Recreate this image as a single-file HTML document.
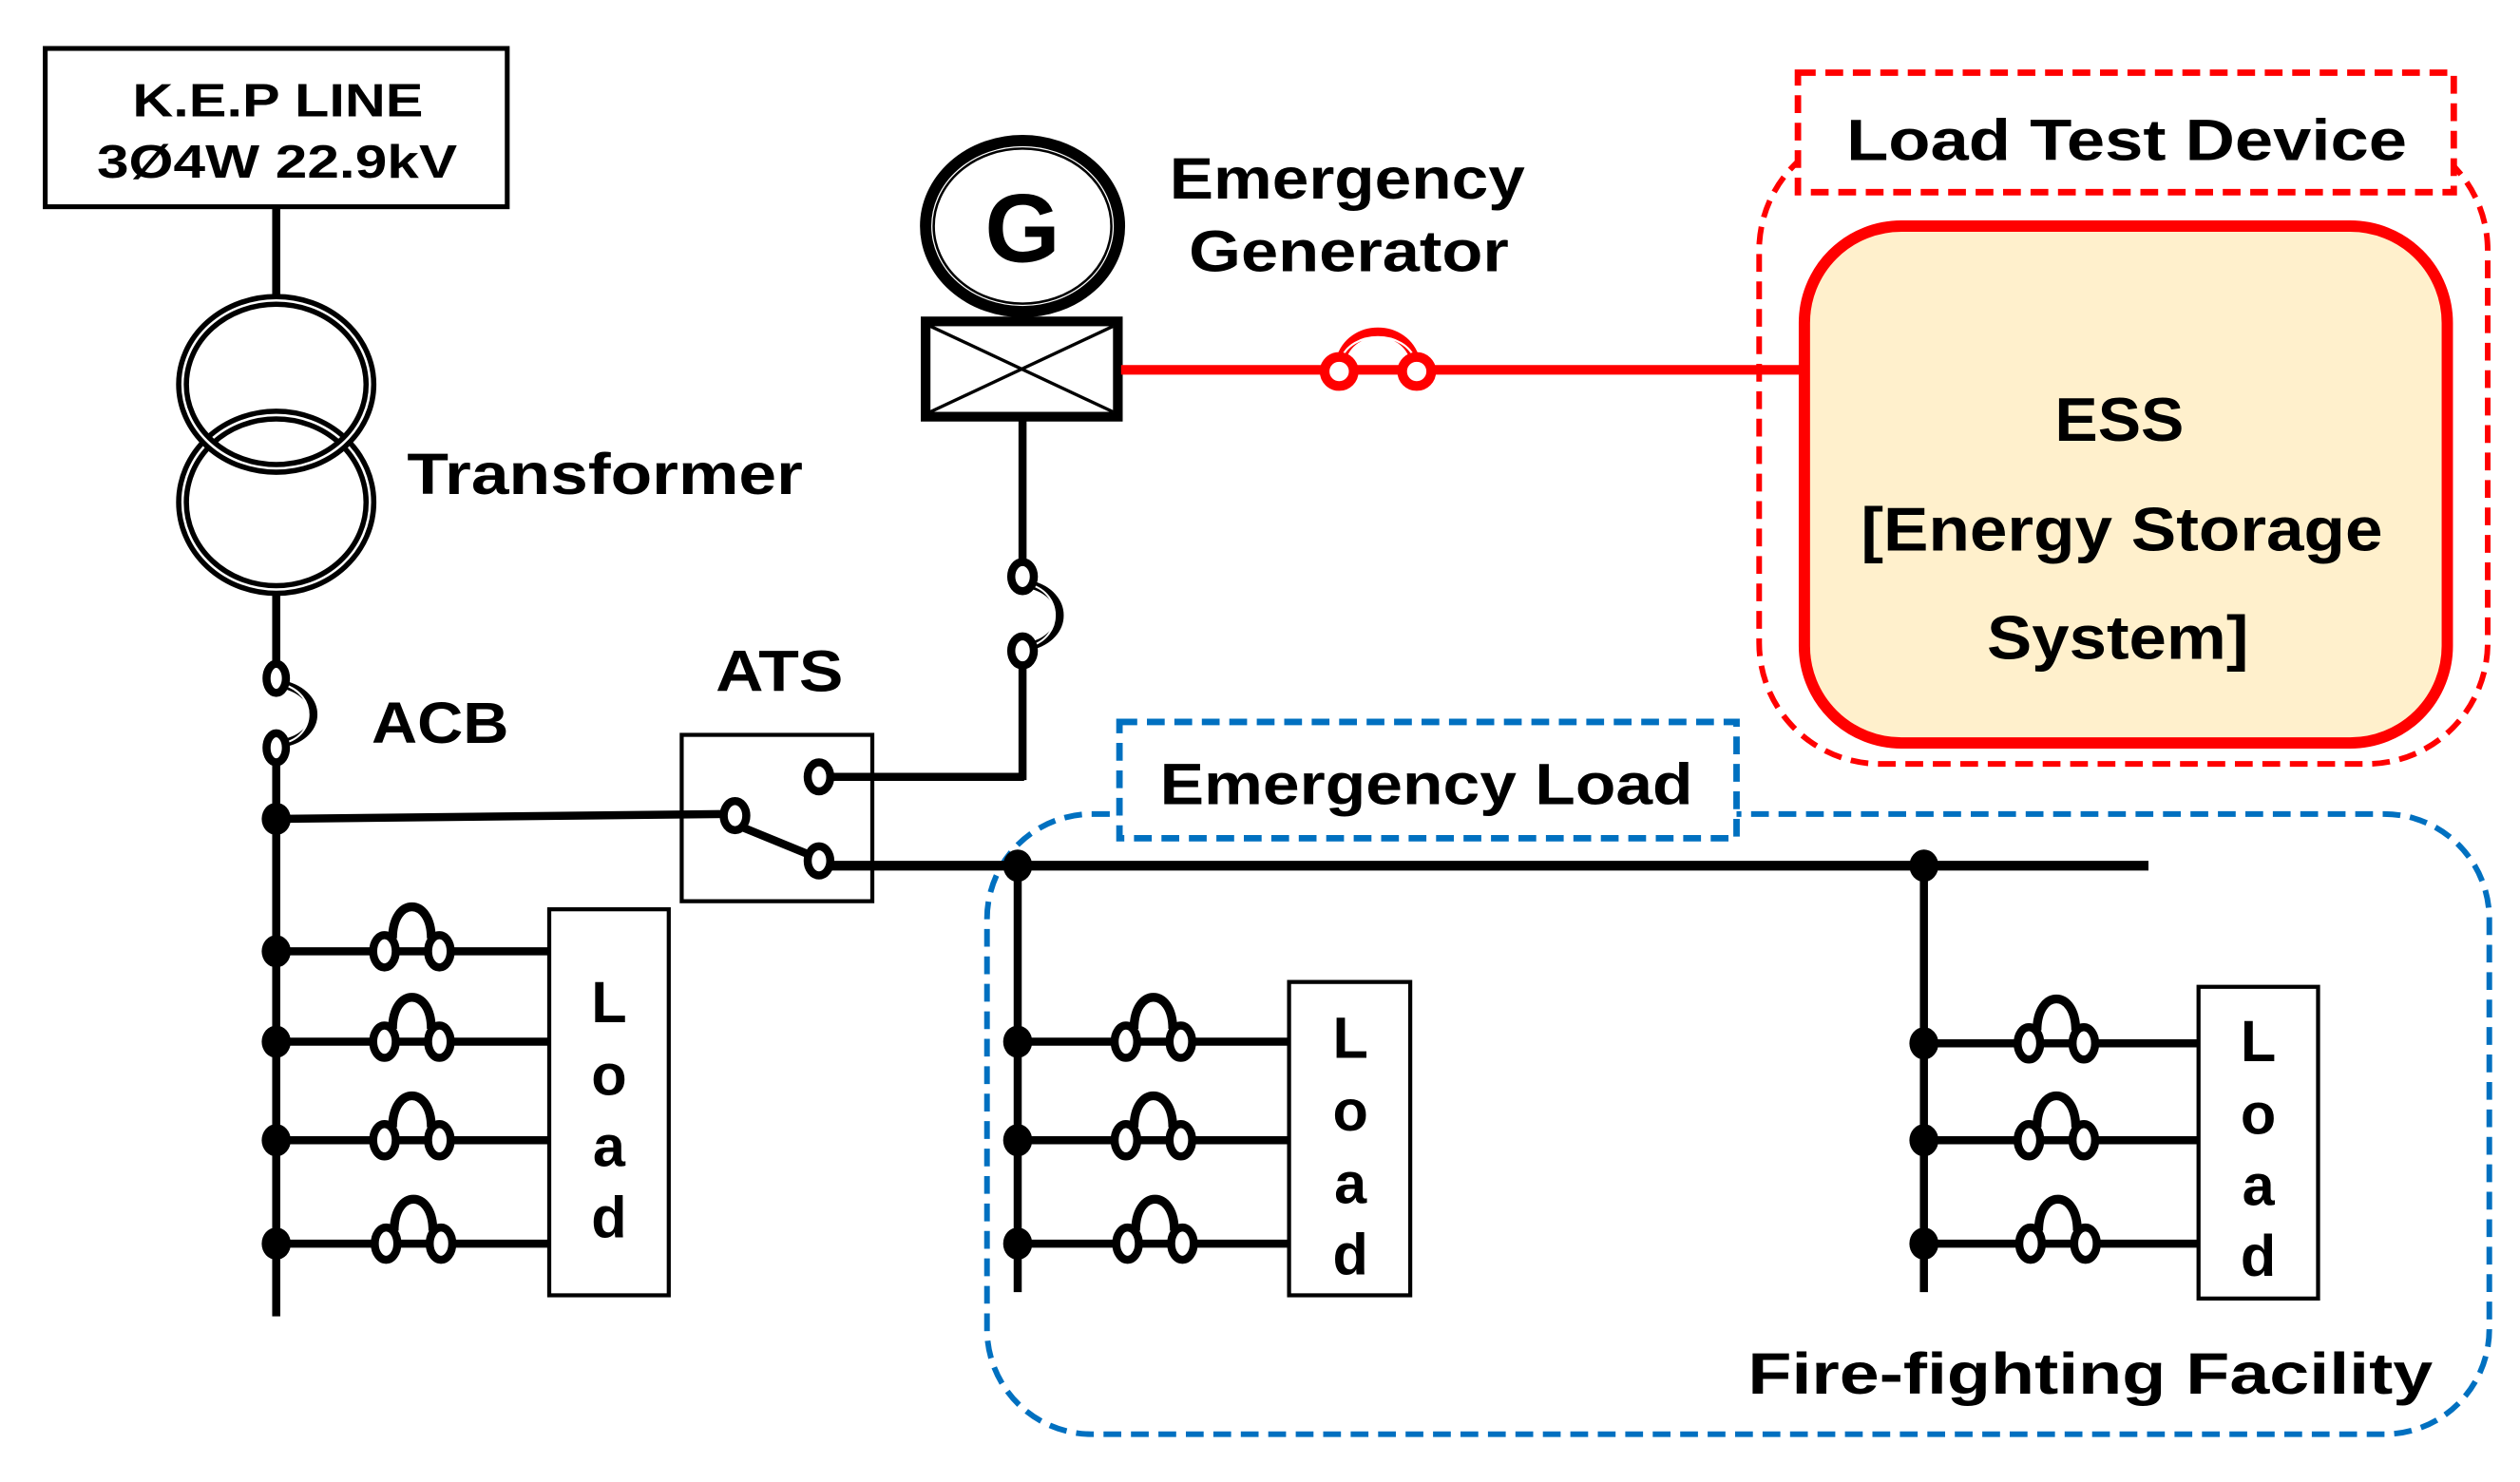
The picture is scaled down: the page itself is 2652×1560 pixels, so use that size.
<!DOCTYPE html>
<html><head><meta charset="utf-8"><style>
html,body{margin:0;padding:0;background:#fff}
svg{display:block}
text{font-family:"Liberation Sans",Arial,sans-serif;font-weight:bold;fill:#000}
</style></head><body>
<svg width="2652" height="1560" viewBox="0 0 1560 917.6" preserveAspectRatio="none" xmlns="http://www.w3.org/2000/svg">
<defs>
<g id="fuse">
  <path d="M-12,-8 C-12,-34 12,-34 12,-8" fill="none" stroke="#000" stroke-width="5.5"/>
  <ellipse cx="-17" cy="0" rx="7" ry="10" fill="#fff" stroke="#000" stroke-width="5"/>
  <ellipse cx="17" cy="0" rx="7" ry="10" fill="#fff" stroke="#000" stroke-width="5"/>
</g>
</defs>

<rect x="28" y="30" width="286" height="98" fill="#fff" stroke="#000" stroke-width="3"/>
<text x="82" y="72" font-size="29" textLength="180" lengthAdjust="spacingAndGlyphs">K.E.P LINE</text>
<text x="60" y="110" font-size="29" textLength="223" lengthAdjust="spacingAndGlyphs">3Ø4W 22.9kV</text>
<line x1="171" y1="128" x2="171" y2="186" stroke="#000" stroke-width="5"/>

<ellipse cx="171" cy="311" rx="58" ry="54" fill="none" stroke="#000" stroke-width="8"/>
<ellipse cx="171" cy="311" rx="58" ry="54" fill="none" stroke="#fff" stroke-width="1.5"/>
<ellipse cx="171" cy="238" rx="58" ry="52" fill="none" stroke="#000" stroke-width="8"/>
<ellipse cx="171" cy="238" rx="58" ry="52" fill="none" stroke="#fff" stroke-width="1.5"/>
<text x="252" y="306" font-size="36" textLength="245" lengthAdjust="spacingAndGlyphs">Transformer</text>
<line x1="171" y1="368" x2="171" y2="410" stroke="#000" stroke-width="5"/>

<path d="M176,424 C200,430 200,455 176,460" fill="none" stroke="#000" stroke-width="5"/>
<path d="M176,424 C196,430 196,455 176,460" fill="none" stroke="#fff" stroke-width="1.2"/>
<ellipse cx="171" cy="420" rx="6" ry="9" fill="#fff" stroke="#000" stroke-width="5"/>
<ellipse cx="171" cy="463" rx="6" ry="9" fill="#fff" stroke="#000" stroke-width="5"/>
<text x="230" y="460" font-size="36" textLength="85" lengthAdjust="spacingAndGlyphs">ACB</text>
<line x1="171" y1="472" x2="171" y2="815" stroke="#000" stroke-width="5"/>
<ellipse cx="171" cy="507" rx="9" ry="10" fill="#000"/>
<line x1="171" y1="507" x2="450" y2="504" stroke="#000" stroke-width="5"/>

<text x="443" y="428" font-size="36" textLength="79" lengthAdjust="spacingAndGlyphs">ATS</text>
<rect x="422" y="455" width="118" height="103" fill="none" stroke="#000" stroke-width="2.5"/>
<line x1="459" y1="512" x2="503" y2="530" stroke="#000" stroke-width="5"/>
<ellipse cx="455" cy="505" rx="7" ry="9" fill="#fff" stroke="#000" stroke-width="5"/>
<line x1="514" y1="481" x2="634" y2="481" stroke="#000" stroke-width="5"/>
<ellipse cx="507" cy="481" rx="7" ry="9" fill="#fff" stroke="#000" stroke-width="5"/>
<ellipse cx="507" cy="533" rx="7" ry="9" fill="#fff" stroke="#000" stroke-width="5"/>

<ellipse cx="633" cy="140" rx="60" ry="53" fill="#fff" stroke="#000" stroke-width="7"/>
<ellipse cx="633" cy="140" rx="55" ry="48" fill="none" stroke="#000" stroke-width="1.5"/>
<text x="633" y="162" font-size="60" text-anchor="middle">G</text>
<rect x="573" y="199" width="119" height="59" fill="#fff" stroke="#000" stroke-width="6"/>
<line x1="576" y1="202" x2="689" y2="255" stroke="#000" stroke-width="2"/>
<line x1="689" y1="202" x2="576" y2="255" stroke="#000" stroke-width="2"/>
<text x="724" y="123" font-size="36" textLength="220" lengthAdjust="spacingAndGlyphs">Emergency</text>
<text x="736" y="168" font-size="36" textLength="198" lengthAdjust="spacingAndGlyphs">Generator</text>
<line x1="633" y1="260" x2="633" y2="350" stroke="#000" stroke-width="5"/>
<path d="M638,362 C662,368 662,394 638,400" fill="none" stroke="#000" stroke-width="5"/>
<path d="M638,362 C658,368 658,394 638,400" fill="none" stroke="#fff" stroke-width="1.2"/>
<ellipse cx="633" cy="357" rx="7" ry="9" fill="#fff" stroke="#000" stroke-width="5"/>
<ellipse cx="633" cy="403" rx="7" ry="9" fill="#fff" stroke="#000" stroke-width="5"/>
<line x1="633" y1="412" x2="633" y2="483" stroke="#000" stroke-width="5"/>

<line x1="694" y1="229" x2="1117" y2="229" stroke="#f00" stroke-width="6"/>
<path d="M830,223 C836,200 870,200 876,223" fill="none" stroke="#f00" stroke-width="6"/>
<path d="M830,223 C836,204 870,204 876,223" fill="none" stroke="#fff" stroke-width="1.3"/>
<ellipse cx="829" cy="230" rx="9" ry="9" fill="#fff" stroke="#f00" stroke-width="6"/>
<ellipse cx="877" cy="230" rx="9" ry="9" fill="#fff" stroke="#f00" stroke-width="6"/>

<rect x="1089" y="80" width="451" height="393" rx="75" ry="75" fill="none" stroke="#f00" stroke-width="3.5" stroke-dasharray="11,6"/>
<rect x="1113" y="45" width="406" height="74" fill="#fff" stroke="#f00" stroke-width="4" stroke-dasharray="11,6"/>
<text x="1143" y="99" font-size="36" textLength="347" lengthAdjust="spacingAndGlyphs">Load Test Device</text>
<rect x="1117" y="140" width="398" height="320" rx="60" ry="60" fill="#fff0cc" stroke="#f00" stroke-width="7"/>
<text x="1272" y="273" font-size="38" textLength="80" lengthAdjust="spacingAndGlyphs">ESS</text>
<text x="1152" y="341" font-size="38" textLength="323" lengthAdjust="spacingAndGlyphs">[Energy Storage</text>
<text x="1230" y="408" font-size="38" textLength="162" lengthAdjust="spacingAndGlyphs">System]</text>

<rect x="611" y="504" width="930" height="384" rx="65" ry="65" fill="none" stroke="#0070c0" stroke-width="3.5" stroke-dasharray="11,6"/>
<rect x="693" y="447" width="382" height="72" fill="#fff" stroke="#0070c0" stroke-width="4" stroke-dasharray="11,6"/>
<text x="718" y="498" font-size="36" textLength="330" lengthAdjust="spacingAndGlyphs">Emergency Load</text>
<line x1="514" y1="536" x2="1330" y2="536" stroke="#000" stroke-width="6"/>
<text x="1082" y="863" font-size="36" textLength="424" lengthAdjust="spacingAndGlyphs">Fire-fighting Facility</text>

<g stroke="#000" stroke-width="5">
<line x1="171" y1="589" x2="340" y2="589"/>
<line x1="171" y1="645" x2="340" y2="645"/>
<line x1="171" y1="706" x2="340" y2="706"/>
<line x1="171" y1="770" x2="340" y2="770"/>
</g>
<g fill="#000">
<ellipse cx="171" cy="589" rx="9" ry="10"/><ellipse cx="171" cy="645" rx="9" ry="10"/>
<ellipse cx="171" cy="706" rx="9" ry="10"/><ellipse cx="171" cy="770" rx="9" ry="10"/>
</g>
<use href="#fuse" x="255" y="589"/><use href="#fuse" x="255" y="645"/>
<use href="#fuse" x="255" y="706"/><use href="#fuse" x="256" y="770"/>
<rect x="340" y="563" width="74" height="239" fill="#fff" stroke="#000" stroke-width="2.5"/>
<g font-size="36" text-anchor="middle">
<text x="377" y="633">L</text><text x="377" y="678">o</text><text x="377" y="722">a</text><text x="377" y="766">d</text>
</g>

<line x1="630" y1="536" x2="630" y2="800" stroke="#000" stroke-width="5"/>
<ellipse cx="630" cy="536" rx="9" ry="10" fill="#000"/>
<g stroke="#000" stroke-width="5">
<line x1="630" y1="645" x2="798" y2="645"/>
<line x1="630" y1="706" x2="798" y2="706"/>
<line x1="630" y1="770" x2="798" y2="770"/>
</g>
<g fill="#000">
<ellipse cx="630" cy="645" rx="9" ry="10"/><ellipse cx="630" cy="706" rx="9" ry="10"/><ellipse cx="630" cy="770" rx="9" ry="10"/>
</g>
<use href="#fuse" x="714" y="645"/><use href="#fuse" x="714" y="706"/><use href="#fuse" x="715" y="770"/>
<rect x="798" y="608" width="75" height="194" fill="#fff" stroke="#000" stroke-width="2.5"/>
<g font-size="36" text-anchor="middle">
<text x="836" y="655">L</text><text x="836" y="700">o</text><text x="836" y="745">a</text><text x="836" y="789">d</text>
</g>

<line x1="1191" y1="536" x2="1191" y2="800" stroke="#000" stroke-width="5"/>
<ellipse cx="1191" cy="536" rx="9" ry="10" fill="#000"/>
<g stroke="#000" stroke-width="5">
<line x1="1191" y1="646" x2="1360" y2="646"/>
<line x1="1191" y1="706" x2="1360" y2="706"/>
<line x1="1191" y1="770" x2="1360" y2="770"/>
</g>
<g fill="#000">
<ellipse cx="1191" cy="646" rx="9" ry="10"/><ellipse cx="1191" cy="706" rx="9" ry="10"/><ellipse cx="1191" cy="770" rx="9" ry="10"/>
</g>
<use href="#fuse" x="1273" y="646"/><use href="#fuse" x="1273" y="706"/><use href="#fuse" x="1274" y="770"/>
<rect x="1361" y="611" width="74" height="193" fill="#fff" stroke="#000" stroke-width="2.5"/>
<g font-size="36" text-anchor="middle">
<text x="1398" y="657">L</text><text x="1398" y="702">o</text><text x="1398" y="746">a</text><text x="1398" y="790">d</text>
</g>
</svg>
</body></html>
